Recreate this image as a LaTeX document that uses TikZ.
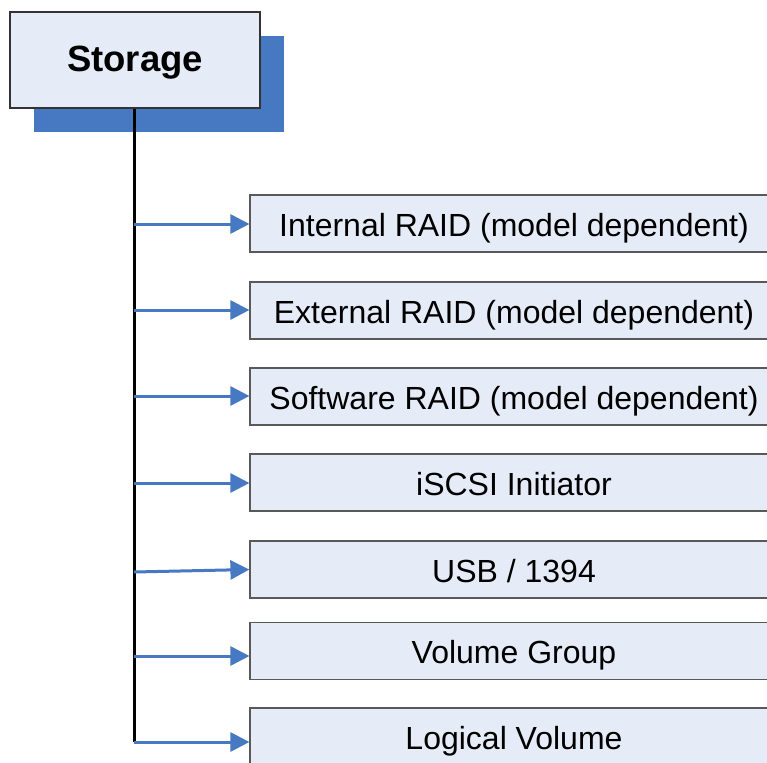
\documentclass[tikz,border=0pt]{standalone}
\usepackage{fontspec}
\setmainfont{Liberation Sans}
\usetikzlibrary{arrows.meta,shadows}
\definecolor{boxfill}{HTML}{E6ECF7}
\definecolor{linkblue}{HTML}{4778C2}
\begin{document}
\begin{tikzpicture}
[x=1pt,y=-1pt
,item/.style={draw=black!65,line width=1.2pt,fill=boxfill,inner sep=0pt
  ,text height=27pt,text depth=2pt
  ,minimum width=528pt,minimum height=57pt,font=\fontsize{32}{38}\selectfont}
,top/.style={item,draw=black!80,minimum width=250pt,minimum height=96pt
  ,text height=26pt,text depth=2.6pt
  ,font=\fontsize{36.5}{42}\selectfont\bfseries
  ,drop shadow={shadow xshift=23.5pt,shadow yshift=-24.5pt,fill=linkblue,opacity=1}}
,trunk/.style={draw=black,line width=3pt}
,link/.style={draw=linkblue,line width=3pt,arrows={-Triangle[length=19pt,width=19pt]}}]
\useasboundingbox (0,0) rectangle (767,762);
\node[top] (st) at (135,60) {Storage};
\node[item] (n1) at (514,223.5) {Internal RAID (model dependent)};
\node[item] (n2) at (514,310.5) {External RAID (model dependent)};
\node[item] (n3) at (514,396.5) {Software RAID (model dependent)};
\node[item] (n4) at (514,482.5) {iSCSI Initiator};
\node[item] (n5) at (514,569.5) {USB / 1394};
\node[item] (n6) at (514,651) {Volume Group};
\node[item] (n7) at (514,736.5) {Logical Volume};
\coordinate (t1) at (134,224);
\coordinate (t2) at (134,310);
\coordinate (t3) at (134,396);
\coordinate (t4) at (134,483);
\coordinate (t5) at (134,572);
\coordinate (t6) at (134,656);
\coordinate (t7) at (134,742);
\draw[trunk] (st.south -| t7) -- (t7);
\draw[link] (t1) -- (t1 -| n1.west);
\draw[link] (t2) -- (t2 -| n2.west);
\draw[link] (t3) -- (t3 -| n3.west);
\draw[link] (t4) -- (t4 -| n4.west);
\draw[link] (t5) -- (n5.west);
\draw[link] (t6) -- (t6 -| n6.west);
\draw[link] (t7) -- (t7 -| n7.west);
\end{tikzpicture}
\end{document}
